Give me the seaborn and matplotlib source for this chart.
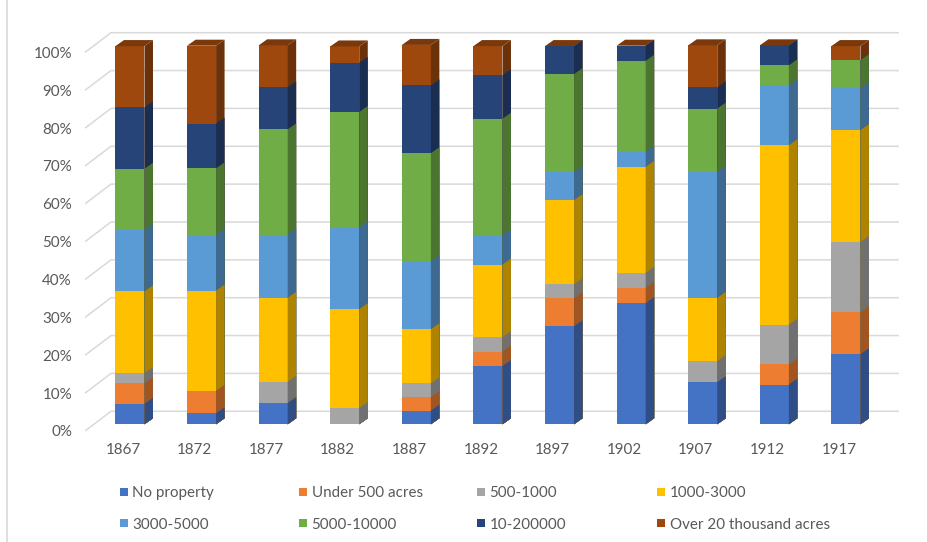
import matplotlib
matplotlib.use("Agg")
import matplotlib.pyplot as plt
from matplotlib.patches import Polygon, Rectangle
from matplotlib.lines import Line2D
from matplotlib.transforms import ScaledTranslation
from matplotlib.colors import to_rgb
import pandas as pd
import seaborn as sns

# Share of owners by size of holding, per survey year (percent of each year)
years = ["1867", "1872", "1877", "1882", "1887", "1892", "1897", "1902", "1907", "1912", "1917"]
no_property = [5.4, 2.9, 5.6, 0.0, 3.6, 15.4, 25.9, 32.0, 11.1, 10.5, 18.5]
under_500 = [5.4, 5.9, 0.0, 0.0, 3.6, 3.8, 7.4, 4.0, 0.0, 5.3, 11.1]
acres_500_1000 = [2.7, 0.0, 5.6, 4.3, 3.6, 3.8, 3.7, 4.0, 5.6, 10.5, 18.5]
acres_1000_3000 = [21.6, 26.5, 22.2, 26.1, 14.3, 19.2, 22.2, 28.0, 16.7, 47.4, 29.6]
acres_3000_5000 = [16.2, 14.7, 16.7, 21.7, 17.9, 7.7, 7.4, 4.0, 33.3, 15.8, 11.1]
acres_5000_10000 = [16.2, 17.6, 27.8, 30.4, 28.6, 30.8, 25.9, 24.0, 16.7, 5.3, 7.4]
acres_10_20000 = [16.2, 11.8, 11.1, 13.0, 17.9, 11.5, 7.4, 4.0, 5.6, 5.3, 0.0]
over_20000 = [16.2, 20.6, 11.1, 4.3, 10.7, 7.7, 0.0, 0.0, 11.1, 0.0, 3.7]

series_labels = ["No property", "Under 500 acres", "500-1000", "1000-3000",
                 "3000-5000", "5000-10000", "10-200000", "Over 20 thousand acres"]
series_values = [no_property, under_500, acres_500_1000, acres_1000_3000,
                 acres_3000_5000, acres_5000_10000, acres_10_20000, over_20000]
colors = ["#4472C4", "#ED7D31", "#A5A5A5", "#FFC000",
          "#5B9BD5", "#70AD47", "#264478", "#9E480E"]

sns.set_theme(style="white")
plt.rcParams["font.family"] = ["Lato", "DejaVu Sans"]
text_color = "#595959"
grid_color = "#D9D9D9"
fs = 10.9

W, H = 927, 542
fig = plt.figure(figsize=(W / 100, H / 100), dpi=100)
ax_rect = [0.1016, 0.2172, 0.8496, 0.6985]
ax = fig.add_axes(ax_rect)
ax.set_facecolor("white")

n = len(years)
sx = ax_rect[2] * W / n          # pixels per category
sy = ax_rect[3] * H / 100.0      # pixels per percent
dx, dy = 8.5 / sx, 6.0 / sy      # bar depth (side / top faces)

df = pd.DataFrame({"year": years})
for lab, vals in zip(series_labels, series_values):
    df[lab] = vals
cum = df[series_labels].cumsum(axis=1)


def shade(c, f):
    r, g, b = to_rgb(c)
    return (r * f, g * f, b * f)


# back-wall gridlines with the perspective step at the left
for t in range(0, 101, 10):
    wall_y = t + 13.0 / sy
    front_y = t - 6.7 / sy
    ax.plot([-0.628, -0.265, 10.74], [front_y, wall_y, wall_y],
            color=grid_color, lw=1.1, clip_on=False, zorder=0,
            solid_capstyle="butt")

# stacked columns: each cumulative total is drawn over the previous one
top_label = series_labels[-1]
for k in range(len(series_labels) - 1, -1, -1):
    lab, col = series_labels[k], colors[k]
    start = len(ax.patches)
    sns.barplot(x=df["year"], y=cum[lab], order=years, color=col, saturation=1,
                width=0.405, errorbar=None, linewidth=0, edgecolor="none", ax=ax)
    bars = list(ax.patches[start:])
    for bar in bars:
        x0, w, h = bar.get_x(), bar.get_width(), bar.get_height()
        side = Polygon([(x0 + w, 0), (x0 + w + dx, dy), (x0 + w + dx, h + dy), (x0 + w, h)],
                       closed=True, facecolor=shade(col, 0.68), edgecolor="none",
                       clip_on=False, zorder=1)
        ax.add_patch(side)
        if lab == top_label:
            top = Polygon([(x0, h), (x0 + dx, h + dy), (x0 + w + dx, h + dy), (x0 + w, h)],
                          closed=True, facecolor=shade(col, 0.78), edgecolor="none",
                          clip_on=False, zorder=1)
            ax.add_patch(top)
    for bar in bars:
        bar.set_clip_on(False)

ax.set_xlim(-0.5, n - 0.5)
ax.set_ylim(0, 100)
ax.set_xlabel("")
ax.set_ylabel("")
for s in ax.spines.values():
    s.set_visible(False)
ax.grid(False)

ax.set_yticks(range(0, 101, 10))
ax.set_yticklabels([f"{t}%" for t in range(0, 101, 10)])
ax.tick_params(axis="y", length=0, pad=16, labelsize=fs, labelcolor=text_color)
ax.tick_params(axis="x", length=0, pad=13.5, labelsize=fs, labelcolor=text_color)
ax.set_xticks(range(n))
ax.set_xticklabels(years)
for lbl in ax.get_yticklabels():
    lbl.set_transform(lbl.get_transform() + ScaledTranslation(0, -6.7 / 100, fig.dpi_scale_trans))
for lbl in ax.get_xticklabels():
    lbl.set_transform(lbl.get_transform() + ScaledTranslation(-7 / 100, 0, fig.dpi_scale_trans))

# legend: two rows of four entries
col_x = [120, 299, 477, 657]
row_y = [491.7, 523.3]
msize = 8
for i, (lab, col) in enumerate(zip(series_labels, colors)):
    r, c = divmod(i, 4)
    mx, my = col_x[c], row_y[r]
    fig.patches.append(Rectangle((mx / W, 1 - (my + msize / 2) / H), msize / W, msize / H,
                                 transform=fig.transFigure, facecolor=col, edgecolor="none"))
    fig.text((mx + 12.5) / W, 1 - my / H, lab, fontsize=fs, color=text_color,
             ha="left", va="center_baseline")

fig.add_artist(Line2D([6.7 / W, 6.7 / W], [0, 1], color=grid_color, lw=1.2,
                      transform=fig.transFigure))

fig.savefig("out.png", dpi=100, facecolor="white")
